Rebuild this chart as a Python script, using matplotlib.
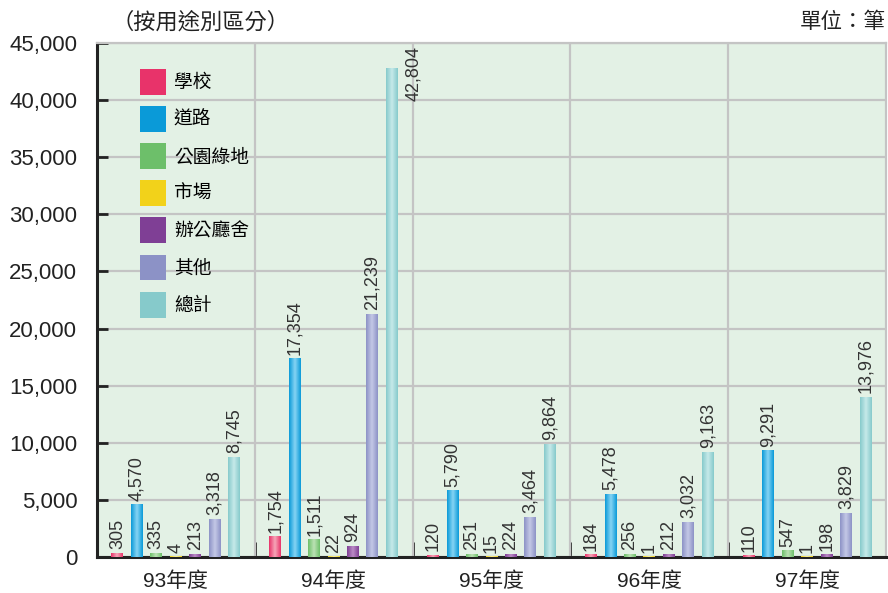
import numpy as np
import matplotlib
matplotlib.use('Agg')
import matplotlib.pyplot as plt
from matplotlib.colors import LinearSegmentedColormap
from matplotlib.patches import Patch

plt.rcParams['font.family'] = ['Liberation Sans', 'Noto Sans CJK TC', 'DejaVu Sans']

# 資料
years = ['93年度', '94年度', '95年度', '96年度', '97年度']
series = ['學校', '道路', '公園綠地', '市場', '辦公廳舍', '其他', '總計']
school = [305, 1754, 120, 184, 110]
road = [4570, 17354, 5790, 5478, 9291]
park = [335, 1511, 251, 256, 547]
market = [4, 22, 15, 1, 1]
office = [213, 924, 224, 212, 198]
other = [3318, 21239, 3464, 3032, 3829]
total = [8745, 42804, 9864, 9163, 13976]
values = [school, road, park, market, office, other, total]

base_colors = ['#e8336a', '#0a9ad8', '#6dbf6a', '#f2d21a', '#7f3f95', '#8c92c6', '#86cacb']
light_colors = ['#f6a6b8', '#86d4f4', '#bce2b4', '#f9ee95', '#bb8cc6', '#c4c8e6', '#c6e9e9']

fig = plt.figure(figsize=(8.88, 5.93), dpi=100)
ax = fig.add_axes([0.109, 0.0607, 0.889, 0.8668])
ax.set_facecolor('#e3f1e5')

step = 0.123
width = 0.076
x = np.arange(len(years)) + 0.5
ymax = 45000

for j, (name, vals) in enumerate(zip(series, values)):
    cmap = LinearSegmentedColormap.from_list(
        name, [base_colors[j], light_colors[j], base_colors[j]], N=64)
    bars = ax.bar(x + (j - 3) * step, vals, width, color=base_colors[j], zorder=3)
    for b, v in zip(bars, vals):
        x0, w, h = b.get_x(), b.get_width(), b.get_height()
        ax.imshow(np.linspace(0, 1, 64).reshape(1, -1), extent=[x0, x0 + w, 0, h],
                  aspect='auto', cmap=cmap, zorder=3.5, interpolation='bilinear')
        label = f'{v:,}'
        if v > ymax * 0.9:
            ax.annotate(label, (x0 + w, ymax), xytext=(5, -2), textcoords='offset points',
                        rotation=90, ha='left', va='top', fontsize=13, color='#333333')
        else:
            ax.annotate(label, (x0 + w / 2, v), xytext=(0, 3), textcoords='offset points',
                        rotation=90, ha='center', va='bottom', fontsize=13, color='#333333')

ax.set_xlim(0, 5)
ax.set_ylim(0, ymax)
ax.set_yticks(np.arange(0, 45001, 5000))
ax.set_yticklabels([f'{t:,}' for t in range(0, 45001, 5000)], fontsize=16, color='#222222')
ax.set_xticks(x)
ax.set_xticklabels(years, fontsize=15, color='#222222')
ax.set_xticks([1, 2, 3, 4], minor=True)

ax.tick_params(axis='y', direction='in', length=8, width=2, color='#222222', pad=14)
ax.tick_params(axis='x', which='major', length=0, pad=10)
ax.tick_params(axis='x', which='minor', direction='in', length=11, width=2, color='#222222')

ax.grid(axis='y', color='#c4c4c4', linewidth=1.6, zorder=1)
for gx in [1, 2, 3, 4]:
    ax.axvline(gx, color='#c4c4c4', linewidth=1.6, zorder=1)
ax.set_axisbelow(True)

for s in ['left', 'bottom']:
    ax.spines[s].set_color('#222222')
    ax.spines[s].set_linewidth(2.2)
for s in ['top', 'right']:
    ax.spines[s].set_color('#c4c4c4')
    ax.spines[s].set_linewidth(1.6)

handles = []
for j, name in enumerate(series):
    handles.append(Patch(facecolor=base_colors[j], edgecolor='none', label=name))
ax.legend(handles=handles, loc='upper left', bbox_to_anchor=(0.055, 0.95), frameon=False,
          fontsize=13.5, handlelength=1.4, handleheight=1.75, handletextpad=0.4,
          labelspacing=0.6, borderpad=0, borderaxespad=0)

fig.text(111 / 888, 1 - 23 / 593, '（按用途別區分）', fontsize=16, color='#222222',
         ha='left', va='center')
fig.text(886 / 888, 1 - 23 / 593, '單位：筆', fontsize=15.5, color='#222222',
         ha='right', va='center')

fig.savefig('out.png', dpi=100)
